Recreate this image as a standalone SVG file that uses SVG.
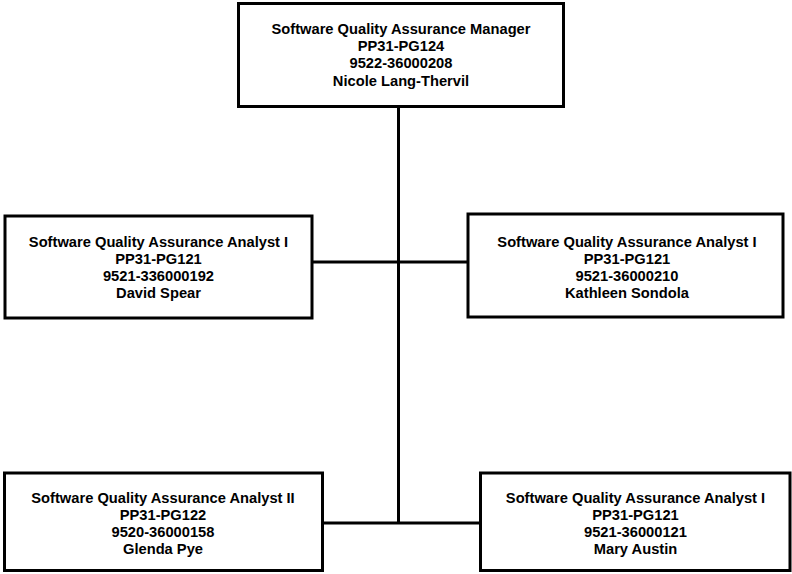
<svg xmlns="http://www.w3.org/2000/svg" width="792" height="574" viewBox="0 0 792 574">
  <style>
    .box { fill: #ffffff; stroke: #000000; stroke-width: 3; }
    .wire { fill: none; stroke: #000000; stroke-width: 3; }
    .lbl { font-family: "Liberation Sans", Arial, sans-serif; font-weight: bold; font-size: 14.7px; fill: #000000; text-anchor: middle; }
  </style>
  <rect x="0" y="0" width="792" height="574" fill="#ffffff"/>

  <!-- reporting lines -->
  <g id="connectors">
    <path class="wire" d="M398.5 106 V523"/>
    <path class="wire" d="M312 262 H468"/>
    <path class="wire" d="M322 523 H481"/>
  </g>

  <g id="manager">
    <rect class="box" x="238.5" y="3.5" width="325" height="103"/>
    <text class="lbl" x="401" y="34">Software Quality Assurance Manager</text>
    <text class="lbl" x="401" y="51">PP31-PG124</text>
    <text class="lbl" x="401" y="68">9522-36000208</text>
    <text class="lbl" x="401" y="85.5">Nicole Lang-Thervil</text>
  </g>

  <g id="analyst-spear">
    <rect class="box" x="5" y="216" width="307" height="102"/>
    <text class="lbl" x="158.5" y="246.5">Software Quality Assurance Analyst I</text>
    <text class="lbl" x="158.5" y="263.5">PP31-PG121</text>
    <text class="lbl" x="158.5" y="281">9521-336000192</text>
    <text class="lbl" x="158.5" y="298">David Spear</text>
  </g>

  <g id="analyst-sondola">
    <rect class="box" x="468" y="214" width="315" height="103"/>
    <text class="lbl" x="627" y="246.5">Software Quality Assurance Analyst I</text>
    <text class="lbl" x="627" y="263.5">PP31-PG121</text>
    <text class="lbl" x="627" y="281">9521-36000210</text>
    <text class="lbl" x="627" y="298">Kathleen Sondola</text>
  </g>

  <g id="analyst-pye">
    <rect class="box" x="4.5" y="473" width="318" height="97.5"/>
    <text class="lbl" x="163" y="503">Software Quality Assurance Analyst II</text>
    <text class="lbl" x="163" y="520">PP31-PG122</text>
    <text class="lbl" x="163" y="537">9520-36000158</text>
    <text class="lbl" x="163" y="554">Glenda Pye</text>
  </g>

  <g id="analyst-austin">
    <rect class="box" x="480.5" y="473" width="309.5" height="97.5"/>
    <text class="lbl" x="635.5" y="503">Software Quality Assurance Analyst I</text>
    <text class="lbl" x="635.5" y="520">PP31-PG121</text>
    <text class="lbl" x="635.5" y="537">9521-36000121</text>
    <text class="lbl" x="635.5" y="554">Mary Austin</text>
  </g>
</svg>
